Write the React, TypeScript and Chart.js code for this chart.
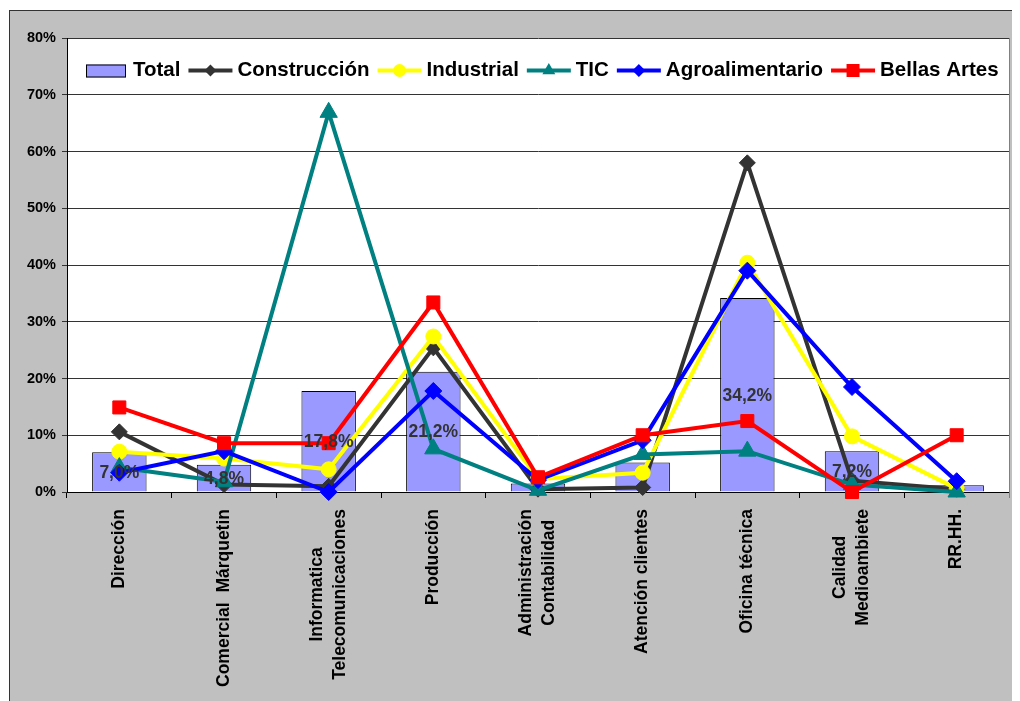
import React, { useEffect, useRef } from "react";
import { Chart, registerables } from "chart.js";

Chart.register(...registerables);

const FONT = '"Liberation Sans", Arial, Helvetica, sans-serif';

const categories: (string | string[])[] = [
  "Dirección",
  "Comercial  Márquetin",
  ["Informatica", "Telecomunicaciones"],
  "Producción",
  ["Administración", "Contabilidad"],
  "Atención clientes",
  "Oficina técnica",
  ["Calidad", "Medioambiete"],
  "RR.HH.",
];

const total = [7.0, 4.8, 17.8, 21.2, 1.5, 5.2, 34.2, 7.2, 1.2];
const totalLabels = ["7,0%", "4,8%", "17,8%", "21,2%", "", "", "34,2%", "7,2%", ""];
const construccion = [10.6, 1.3, 1.0, 25.4, 0.5, 0.8, 58.0, 2.0, 0.5];
const industrial = [7.1, 5.9, 4.0, 27.4, 2.3, 3.4, 40.4, 9.8, 0.6];
const tic = [4.3, 1.8, 66.9, 7.6, 0.3, 6.6, 7.2, 1.3, 0.0];
const agroalimentario = [3.4, 7.2, 0.0, 17.8, 2.1, 9.1, 39.0, 18.5, 1.9];
const bellasArtes = [14.9, 8.6, 8.6, 33.4, 2.6, 10.0, 12.5, 0.0, 10.0];

const yMin = 0;
const yMax = 80;
const yStep = 10;

function drawMarker(ctx: CanvasRenderingContext2D, style: string, x: number, y: number, r: number, color: string) {
  ctx.fillStyle = color;
  ctx.beginPath();
  if (style === "rectRot") {
    ctx.moveTo(x - r, y);
    ctx.lineTo(x, y - r);
    ctx.lineTo(x + r, y);
    ctx.lineTo(x, y + r);
    ctx.closePath();
  } else if (style === "circle") {
    ctx.arc(x, y, r, 0, Math.PI * 2);
  } else if (style === "triangle") {
    ctx.moveTo(x, y - r);
    ctx.lineTo(x + 0.866 * r, y + 0.5 * r);
    ctx.lineTo(x - 0.866 * r, y + 0.5 * r);
    ctx.closePath();
  } else {
    ctx.rect(x - r, y - r, 2 * r, 2 * r);
  }
  ctx.fill();
}

const backgroundPlugin = {
  id: "bgPlugin",
  beforeDraw(chart: any) {
    const { ctx, chartArea } = chart;
    const W = chart.width;
    const H = chart.height;
    ctx.save();
    ctx.fillStyle = "#ffffff";
    ctx.fillRect(0, 0, W, H);
    ctx.fillStyle = "#C0C0C0";
    ctx.fillRect(1, 2, W, H);
    ctx.strokeStyle = "#333333";
    ctx.lineWidth = 1;
    ctx.strokeRect(1.5, 2.5, W + 10, H + 10);
    ctx.fillStyle = "#ffffff";
    ctx.fillRect(chartArea.left, chartArea.top, chartArea.right - chartArea.left, chartArea.bottom - chartArea.top);
    ctx.restore();
  },
  beforeDatasetsDraw(chart: any) {
    const { ctx, chartArea } = chart;
    ctx.save();
    ctx.strokeStyle = "#808080";
    ctx.lineWidth = 1;
    ctx.beginPath();
    ctx.moveTo(chartArea.right + 0.5, chartArea.top);
    ctx.lineTo(chartArea.right + 0.5, chartArea.bottom + 6);
    ctx.stroke();
    ctx.restore();
  },
};

const labelsPlugin = {
  id: "labelsPlugin",
  afterDraw(chart: any) {
    const ctx: CanvasRenderingContext2D = chart.ctx;
    ctx.save();
    // bar value labels
    const barMeta = chart.getDatasetMeta(0);
    ctx.font = `bold 17.5px ${FONT}`;
    ctx.fillStyle = "#333333";
    ctx.textAlign = "center";
    ctx.textBaseline = "middle";
    barMeta.data.forEach((el: any, i: number) => {
      const t = totalLabels[i];
      if (!t) return;
      ctx.fillText(t, el.x, (el.y + el.base) / 2 + 1);
    });

    // x category labels (rotated, centered multi-line)
    const xScale = chart.scales.x;
    const anchorY = chart.chartArea.bottom + 17;
    const lh = 23;
    ctx.font = `bold 17.5px ${FONT}`;
    ctx.fillStyle = "#000000";
    categories.forEach((c, i) => {
      const lines = Array.isArray(c) ? c : [c];
      const px = xScale.getPixelForTick(i);
      const widths = lines.map((l) => ctx.measureText(l).width);
      const maxW = Math.max(...widths);
      ctx.save();
      ctx.translate(px, anchorY);
      ctx.rotate(-Math.PI / 2);
      ctx.textAlign = "center";
      ctx.textBaseline = "middle";
      lines.forEach((l, j) => {
        ctx.fillText(l, -maxW / 2, (j - (lines.length - 1) / 2) * lh);
      });
      ctx.restore();
    });

    // legend
    ctx.font = `bold 20.5px ${FONT}`;
    ctx.textAlign = "left";
    ctx.textBaseline = "middle";
    let x = 78;
    const y = 62.5;
    chart.data.datasets.forEach((ds: any) => {
      if (ds.type === "bar") {
        ctx.fillStyle = ds.backgroundColor;
        ctx.fillRect(x, y - 6, 40, 13);
        ctx.strokeStyle = "#000";
        ctx.lineWidth = 1;
        ctx.strokeRect(x + 0.5, y - 5.5, 39, 12);
        x += 47;
      } else {
        ctx.strokeStyle = ds.borderColor;
        ctx.lineWidth = 4;
        ctx.beginPath();
        ctx.moveTo(x, y);
        ctx.lineTo(x + 44, y);
        ctx.stroke();
        drawMarker(ctx, ds.pointStyle, x + 22, y, ds.legendMarker, ds.borderColor);
        x += 49;
      }
      ctx.fillStyle = "#000";
      ctx.fillText(ds.label, x, y);
      x += ctx.measureText(ds.label).width + 8;
    });
    ctx.restore();
  },
};

function lineDs(label: string, data: number[], color: string, pointStyle: string, radius: number, legendMarker: number, order: number) {
  return {
    type: "line" as const,
    label,
    data,
    borderColor: color,
    backgroundColor: color,
    borderWidth: 4,
    pointStyle,
    pointRadius: radius,
    pointHoverRadius: radius,
    pointBackgroundColor: color,
    pointBorderColor: color,
    pointBorderWidth: 1,
    tension: 0,
    fill: false,
    clip: false,
    order,
    legendMarker,
  };
}

export default function App() {
  const ref = useRef<HTMLCanvasElement>(null);
  useEffect(() => {
    const canvas = ref.current;
    if (!canvas) return;
    const chart = new Chart(canvas, {
      type: "bar",
      data: {
        labels: categories as any,
        datasets: [
          {
            type: "bar",
            label: "Total",
            data: total,
            backgroundColor: "#9999FF",
            borderColor: "#000000",
            borderWidth: 1,
            barPercentage: 0.52,
            categoryPercentage: 1.0,
            order: 10,
          } as any,
          lineDs("Construcción", construccion, "#333333", "rectRot", 8, 6, 6),
          lineDs("Industrial", industrial, "#FFFF00", "circle", 7.5, 6.5, 5),
          lineDs("TIC", tic, "#008080", "triangle", 10, 7.5, 4),
          lineDs("Agroalimentario", agroalimentario, "#0000FF", "rectRot", 8.5, 6.5, 3),
          lineDs("Bellas Artes", bellasArtes, "#FF0000", "rect", 9.2, 6.5, 2),
        ] as any,
      },
      options: {
        responsive: false,
        animation: false,
        devicePixelRatio: 1,
        layout: { padding: { top: 30, right: 2, left: 0, bottom: 0 } },
        plugins: {
          legend: { display: false },
          tooltip: { enabled: false },
          title: { display: false },
        },
        scales: {
          x: {
            type: "category",
            offset: true,
            grid: {
              display: true,
              drawOnChartArea: false,
              drawTicks: true,
              tickLength: 6,
              offset: true,
              color: "#000000",
            },
            border: { display: true, color: "#000000", width: 1 },
            ticks: { display: false, autoSkip: false },
            afterFit: (s: any) => {
              s.height = 209;
            },
          },
          y: {
            type: "linear",
            min: yMin,
            max: yMax,
            grid: { color: "#333333", tickLength: 5, drawTicks: true },
            border: { display: true, color: "#000000", width: 1 },
            ticks: {
              stepSize: yStep,
              color: "#000000",
              padding: 6,
              font: { family: FONT, size: 14.5, weight: "bold" },
              callback: (v: any) => `${v}%`,
            },
            afterFit: (s: any) => {
              s.width = 59;
            },
          },
        },
      } as any,
      plugins: [backgroundPlugin, labelsPlugin],
    });
    return () => chart.destroy();
  }, []);
  return <canvas ref={ref} width={1012} height={693} style={{ display: "block", width: 1012, height: 693 }} />;
}
